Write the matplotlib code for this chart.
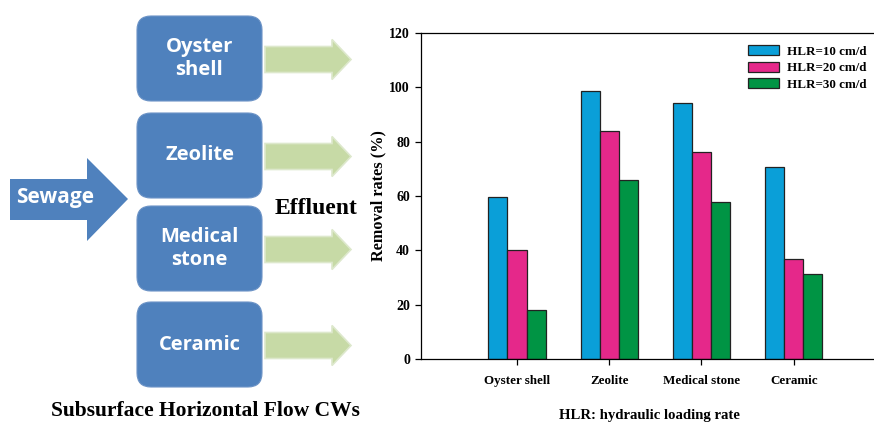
import numpy as np
import matplotlib
matplotlib.use("Agg")
from matplotlib import pyplot as plt
from matplotlib.patches import FancyBboxPatch, Polygon

# Data
categories = ["Oyster shell", "Zeolite", "Medical stone", "Ceramic"]
hlr_labels = ["HLR=10 cm/d", "HLR=20 cm/d", "HLR=30 cm/d"]
hlr10 = [59.7, 98.5, 94.0, 70.5]
hlr20 = [40.0, 83.7, 76.3, 36.7]
hlr30 = [18.0, 65.7, 57.8, 31.5]
y_ticks = [0, 20, 40, 60, 80, 100, 120]

media_boxes = ["Oyster\nshell", "Zeolite", "Medical\nstone", "Ceramic"]

bar_colors = ["#0A9FD8", "#E5288A", "#009444"]
box_blue = "#4F81BD"
arrow_green = "#C7DAA6"

W, H = 874, 423
fig = plt.figure(figsize=(W / 100, H / 100), dpi=100)

# Left: flow diagram, drawn in pixel coordinates
diag = fig.add_axes([0, 0, 1, 1])
diag.set_xlim(0, W)
diag.set_ylim(H, 0)
diag.axis("off")

box_tops = [16, 113, 206, 302]
box_h = 85
for label, top in zip(media_boxes, box_tops):
    diag.add_patch(FancyBboxPatch((140, top + 3), 119, box_h - 6,
                                  boxstyle="round,pad=3,rounding_size=14",
                                  fc=box_blue, ec="#6C93C6", lw=0.8))
    diag.text(199.5, top + box_h / 2, label, color="white", fontsize=14.5,
              fontweight="bold", family="Open Sans", ha="center", va="center",
              linespacing=1.2)
    yc = top + box_h / 2 + 1
    diag.add_patch(Polygon([(265, yc - 13), (332, yc - 13), (332, yc - 20),
                            (351, yc), (332, yc + 20), (332, yc + 13),
                            (265, yc + 13)],
                           closed=True, fc=arrow_green, ec="#DDE8CC", lw=1.2))

# Sewage arrow
diag.add_patch(Polygon([(10, 179), (87, 179), (87, 158), (128, 199),
                        (87, 241), (87, 220), (10, 220)],
                       closed=True, fc=box_blue, ec="none"))
diag.text(55, 197, "Sewage", color="white", fontsize=15, fontweight="bold",
          family="Open Sans", ha="center", va="center")

diag.text(316, 208, "Effluent", fontsize=17, fontweight="bold",
          family="Liberation Serif", ha="center", va="center")
diag.text(205, 411, "Subsurface Horizontal Flow CWs", fontsize=15.5,
          fontweight="bold", family="Liberation Serif", ha="center", va="center")
diag.text(649, 416, "HLR: hydraulic loading rate", fontsize=10.6,
          fontweight="bold", family="Liberation Serif", ha="center", va="center")

# Right: bar chart
ax = fig.add_axes([421 / W, 1 - 359.3 / H, 1 - 421 / W, (359.3 - 32.7) / H])
x = np.arange(len(categories))
w = 0.207
for i, (vals, lab) in enumerate(zip([hlr10, hlr20, hlr30], hlr_labels)):
    ax.bar(x + (i - 1) * w, vals, w, color=bar_colors[i], edgecolor="#222222",
           linewidth=0.9, label=lab)

ax.set_xlim(-1.04, 3.87)
ax.set_ylim(0, 120)
ax.set_yticks(y_ticks)
ax.set_xticks(x)
ax.set_xticklabels(categories)
for t in ax.get_xticklabels():
    t.set_fontsize(9.4)
for t in ax.get_yticklabels():
    t.set_fontsize(10)
for t in ax.get_xticklabels() + ax.get_yticklabels():
    t.set_fontweight("bold")
    t.set_family("Liberation Serif")
ax.tick_params(direction="out", length=4, width=0.9, pad=4)
ax.tick_params(axis="x", pad=7)
ax.spines["right"].set_visible(False)
for s in ["left", "bottom", "top"]:
    ax.spines[s].set_linewidth(0.9)
ax.set_ylabel("Removal rates (%)", fontsize=11.7, fontweight="bold",
              family="Liberation Serif")
ax.yaxis.set_label_coords(-0.077, 0.5)
leg = ax.legend(loc="upper right", bbox_to_anchor=(1.0, 0.985), frameon=False,
                prop={"family": "Liberation Serif", "weight": "bold", "size": 9.4},
                handlelength=2.4, handleheight=0.8, labelspacing=0.3,
                handletextpad=0.6, borderaxespad=0.2)

fig.savefig("out.png", dpi=100)
